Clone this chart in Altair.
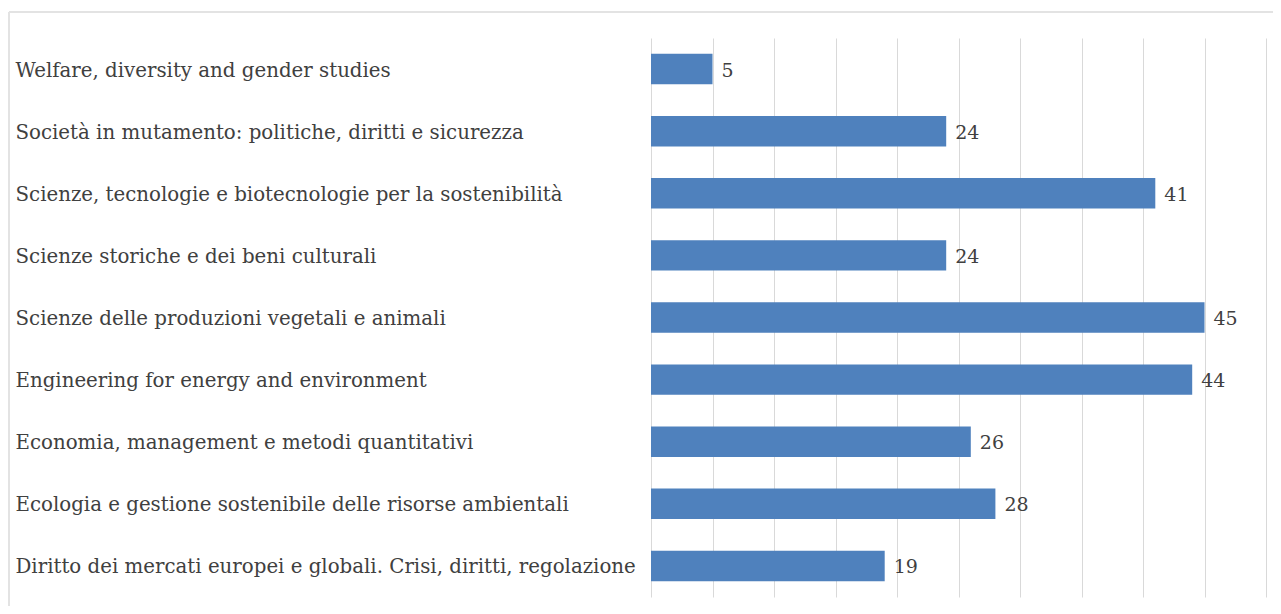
import altair as alt
import pandas as pd

categories = [
    "Welfare, diversity and gender studies",
    "Società in mutamento: politiche, diritti e sicurezza",
    "Scienze, tecnologie e biotecnologie per la sostenibilità",
    "Scienze storiche e dei beni culturali",
    "Scienze delle produzioni vegetali e animali",
    "Engineering for energy and environment",
    "Economia, management e metodi quantitativi",
    "Ecologia e gestione sostenibile delle risorse ambientali",
    "Diritto dei mercati europei e globali. Crisi, diritti, regolazione",
]
values = [5, 24, 41, 24, 45, 44, 26, 28, 19]

df = pd.DataFrame({"cat": categories, "val": values})

FONT = "DejaVu Serif"
TXT = "#404040"

x = alt.X("val:Q", scale=alt.Scale(domain=[0, 50], nice=False),
          axis=alt.Axis(values=list(range(0, 51, 5)), labels=False, ticks=False,
                        domain=False, title=None, grid=True,
                        gridColor="#d9d9d9", gridWidth=1))
y = alt.Y("cat:N", sort=None,
          scale=alt.Scale(paddingInner=0.51, paddingOuter=0.255),
          axis=alt.Axis(title=None, ticks=False, domain=False, labelAlign="left",
                        labelPadding=636, labelLimit=700, labelFont=FONT,
                        labelFontSize=19.8, labelColor=TXT, labelOffset=1.5))

bars = alt.Chart(df).mark_bar(color="#4f81bd").encode(x=x, y=y)
labels = alt.Chart(df).mark_text(align="left", dx=9, dy=1.5, font=FONT, fontSize=19,
                                  color=TXT).encode(x="val:Q", y=alt.Y("cat:N", sort=None),
                                                    text="val:Q")

# light outer frame of the chart (top and left edges)
frame_top = alt.Chart(df).mark_rule(color="#e3e3e3", strokeWidth=2).encode(
    x=alt.value(-642), x2=alt.value(700), y=alt.value(-26))
frame_left = alt.Chart(df).mark_rule(color="#e3e3e3", strokeWidth=2).encode(
    x=alt.value(-642), y=alt.value(-26), y2=alt.value(620))

chart = (frame_top + frame_left + bars + labels).properties(
    width=615, height=559,
    background="white",
    autosize=alt.AutoSizeParams(type="none"),
    padding={"left": 643, "top": 30, "right": 7, "bottom": 9},
).configure_view(stroke=None)

chart.save("out.html", embed_options={"renderer": "svg", "actions": False})
